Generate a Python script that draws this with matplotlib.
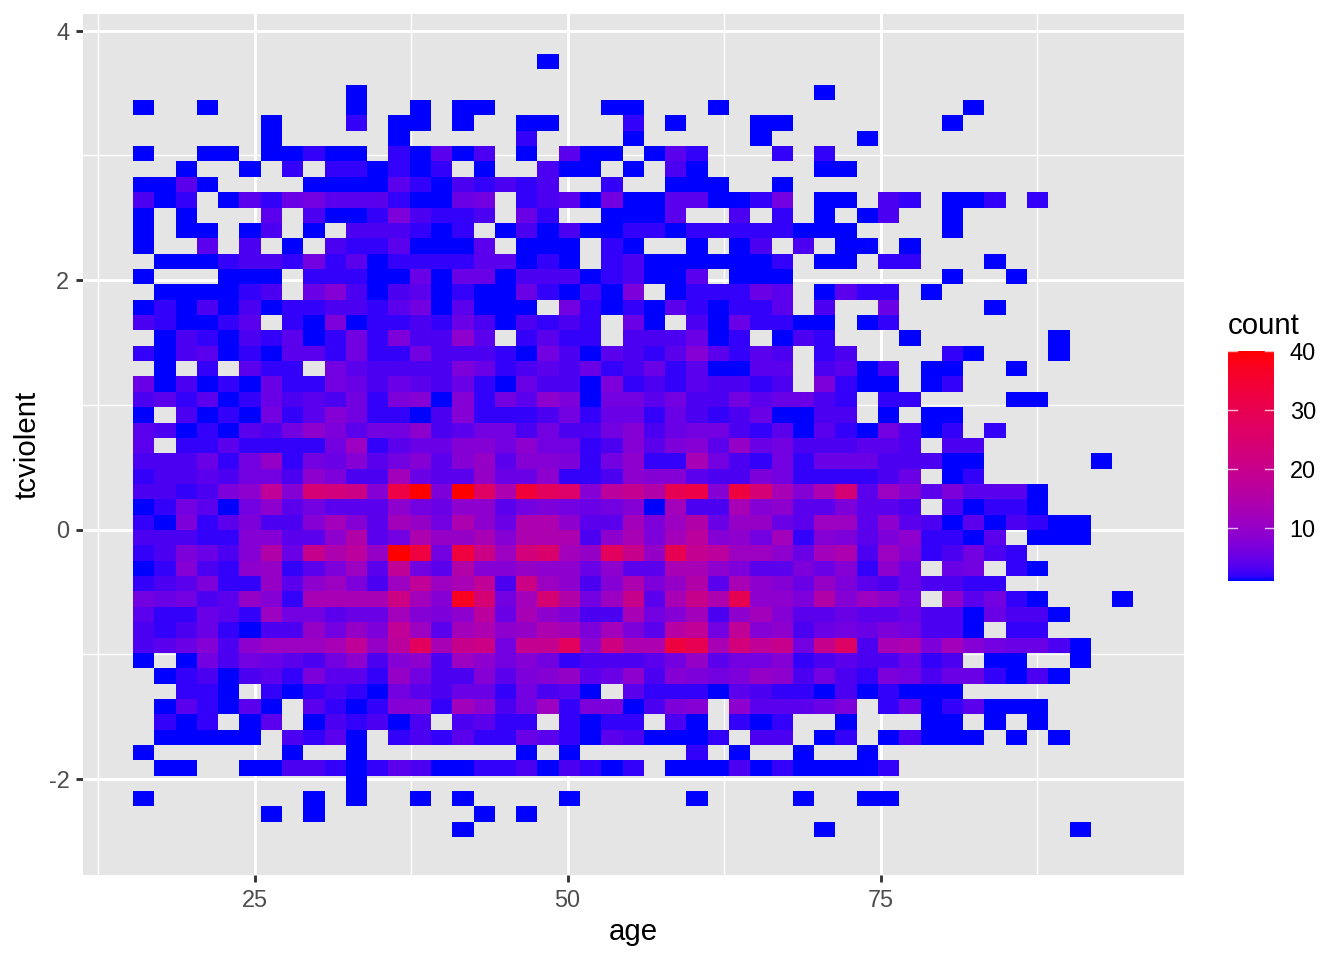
import numpy as np
import matplotlib
matplotlib.use("Agg")
import matplotlib.pyplot as plt
from matplotlib.colors import LinearSegmentedColormap

plt.rcParams['font.family'] = ['Liberation Sans', 'DejaVu Sans']
plt.rcParams['axes.unicode_minus'] = False

# Count per 2D bin, one list per row (top row first), 47 age bins; 0 = empty bin
r00 = [0]*19 + [1] + [0]*27
r01 = [0]*47
r02 = [0,0,0,0,0,0,0,0,0,0,1,0,0,0,0,0,0,0,0,0,0,0,0,0,0,0,0,0,0,0,0,0,1,0,0,0,0,0,0,0,0,0,0,0,0,0,0]
r03 = [1,0,0,1,0,0,0,0,0,0,1,0,0,1,0,1,1,0,0,0,0,0,1,1,0,0,0,1,0,0,0,0,0,0,0,0,0,0,0,1,0,0,0,0,0,0,0]
r04 = [0,0,0,0,0,0,1,0,0,0,2,0,1,1,0,1,0,0,1,1,0,0,0,2,0,1,0,0,0,1,1,0,0,0,0,0,0,0,1,0,0,0,0,0,0,0,0]
r05 = [0,0,0,0,0,0,1,0,0,0,0,0,1,0,0,0,0,0,2,0,0,0,0,1,0,0,0,0,0,1,0,0,0,0,1,0,0,0,0,0,0,0,0,0,0,0,0]
r06 = [1,0,0,1,1,0,1,1,2,1,1,0,2,1,4,1,3,0,1,0,4,1,1,0,1,4,2,0,0,0,2,0,2,0,0,0,0,0,0,0,0,0,0,0,0,0,0]
r07 = [0,0,1,0,0,1,0,2,0,2,2,1,2,1,2,0,1,0,0,3,1,1,0,1,0,3,1,0,0,0,0,0,1,1,0,0,0,0,0,0,0,0,0,0,0,0,0]
r08 = [1,1,4,1,0,0,0,0,1,1,1,1,4,2,1,3,2,3,2,3,0,0,2,0,0,1,1,1,0,0,1,0,0,0,0,0,0,0,0,0,0,0,0,0,0,0,0]
r09 = [3,1,2,0,1,4,2,5,6,4,4,4,2,1,1,5,6,0,2,3,4,1,6,1,1,4,4,1,1,2,6,0,1,1,0,3,2,0,1,1,2,0,2,0,0,0,0]
r10 = [1,0,1,0,0,0,4,0,3,1,1,2,7,3,2,2,3,0,5,2,0,0,1,1,1,4,0,0,3,0,2,0,1,0,1,3,0,0,1,0,0,0,0,0,0,0,0]
r11 = [1,0,1,1,0,1,3,0,1,0,3,3,3,2,1,2,0,1,3,1,3,1,1,2,2,1,2,2,2,2,2,1,1,1,0,0,0,0,1,0,0,0,0,0,0,0,0]
r12 = [1,0,0,4,0,3,0,1,0,3,2,2,4,1,1,1,4,0,1,1,1,0,2,1,0,0,1,0,1,3,0,3,0,1,1,0,1,0,0,0,0,0,0,0,0,0,0]
r13 = [0,1,1,1,2,3,3,2,6,2,4,1,2,2,2,2,4,4,1,2,1,0,2,3,1,1,1,1,1,1,2,0,1,1,0,2,2,0,0,0,1,0,0,0,0,0,0]
r14 = [1,0,0,0,1,1,1,0,2,2,2,1,1,5,1,5,5,1,3,3,3,1,2,3,1,1,4,0,1,1,1,0,0,0,0,0,0,0,1,0,0,1,0,0,0,0,0]
r15 = [0,1,1,1,1,2,3,0,5,8,3,1,3,4,1,2,1,1,5,2,1,3,1,7,0,1,2,2,2,5,4,0,1,4,2,2,0,1,0,0,0,0,0,0,0,0,0]
r16 = [1,2,1,3,1,3,1,2,2,3,3,2,4,6,1,4,1,1,1,0,6,2,1,2,1,4,2,1,2,2,4,0,3,0,0,5,0,0,0,0,1,0,0,0,0,0,0]
r17 = [3,2,1,1,2,4,0,2,1,7,1,2,2,3,2,5,3,1,3,2,3,2,0,5,1,0,3,1,5,2,2,1,1,0,1,2,0,0,0,0,0,0,0,0,0,0,0]
r18 = [0,1,3,2,1,3,2,4,1,2,6,2,7,3,3,9,4,0,2,4,2,2,0,3,3,3,5,1,2,0,1,3,2,0,0,0,1,0,0,0,0,0,0,1,0,0,0]
r19 = [2,1,3,4,1,2,1,4,4,2,6,2,2,6,3,3,3,2,1,6,3,1,4,3,2,4,8,4,2,4,3,0,2,3,0,0,0,0,2,1,0,0,0,1,0,0,0]
r20 = [0,1,0,2,0,4,2,2,0,6,4,3,3,3,3,7,5,2,3,4,3,5,2,3,5,2,4,1,1,4,4,0,3,4,1,3,0,1,1,0,0,1,0,0,0,0,0]
r21 = [5,1,3,1,2,1,5,2,2,6,5,3,5,4,3,5,2,1,5,3,3,1,7,2,3,2,4,3,3,2,3,0,7,2,1,1,0,1,2,0,0,0,0,0,0,0,0]
r22 = [3,4,2,4,1,2,5,3,4,3,6,2,7,8,1,8,2,6,4,9,7,1,6,6,4,6,3,3,6,4,5,5,3,2,0,2,2,0,0,0,0,1,1,0,0,0,0]
r23 = [1,0,3,1,2,1,6,2,4,8,6,2,2,1,3,8,2,2,2,3,6,2,5,5,2,5,3,2,3,5,1,1,3,3,0,1,0,1,1,0,0,0,0,0,0,0,0]
r24 = [4,3,1,2,1,4,3,6,9,7,4,6,6,9,3,4,6,6,3,6,3,3,6,8,3,5,6,6,3,2,4,1,4,2,1,6,3,1,2,0,2,0,0,0,0,0,0]
r25 = [4,0,2,2,4,2,2,2,2,6,11,2,4,5,5,8,8,6,9,6,6,2,3,8,4,7,8,4,10,5,6,3,3,3,4,4,3,0,3,3,0,0,0,0,0,0,0]
r26 = [3,3,3,5,2,6,10,2,6,5,8,4,6,8,4,8,10,4,8,8,7,2,6,9,2,2,13,6,3,2,6,2,5,5,5,3,3,3,1,1,0,0,0,0,0,1,0]
r27 = [2,3,3,4,3,6,6,3,9,7,3,3,12,5,4,4,10,5,5,9,2,2,3,9,8,8,4,3,3,7,6,2,2,2,2,3,5,0,1,2,0,0,0,0,0,0,0]
r28 = [3,3,2,3,7,9,18,8,24,23,21,8,32,40,7,40,27,14,34,28,26,8,17,19,15,30,32,8,33,24,13,8,14,24,4,11,8,4,7,4,4,4,1,0,0,0,0]
r29 = [1,2,6,4,1,6,9,4,6,4,4,4,9,6,5,9,9,4,6,7,6,5,6,8,1,12,3,3,13,8,9,4,4,7,4,4,3,0,3,1,2,2,1,0,0,0,0]
r30 = [2,1,7,2,4,7,3,3,8,12,8,4,12,10,6,14,9,5,14,14,9,4,4,12,7,11,15,5,10,10,5,4,11,11,4,9,4,3,1,4,1,3,2,1,1,0,0]
r31 = [3,3,3,2,2,8,8,4,4,9,15,4,6,14,10,10,13,8,14,14,14,3,9,13,7,12,17,8,9,6,12,2,8,7,4,7,9,2,2,1,4,0,1,1,1,0,0]
r32 = [2,3,7,5,3,8,15,5,20,14,17,10,40,33,6,33,21,11,23,25,12,10,28,20,10,30,19,17,11,11,9,5,12,14,3,11,8,2,3,6,3,2,0,0,0,0,0]
r33 = [1,2,8,3,2,9,10,2,4,7,11,4,18,6,4,15,8,8,10,9,9,5,9,4,4,13,13,9,7,4,4,7,5,8,2,9,5,0,5,6,0,2,1,0,0,0,0]
r34 = [2,3,4,7,2,2,10,4,9,11,7,3,11,18,11,13,18,3,21,11,9,3,8,14,7,10,15,4,13,9,8,5,10,7,4,3,5,3,3,2,2,0,0,0,0,0,0]
r35 = [6,5,6,3,4,10,8,2,13,13,13,13,21,12,8,37,24,6,12,24,15,6,11,20,4,13,20,14,30,9,9,7,15,8,11,9,6,0,9,4,6,2,1,0,0,0,1]
r36 = [4,2,2,5,4,2,11,6,6,4,5,5,12,8,7,9,17,5,13,9,7,3,3,13,6,8,12,3,9,12,8,4,4,5,4,4,5,3,3,1,5,3,3,1,0,0,0]
r37 = [3,2,3,5,2,1,3,3,10,6,10,7,18,11,4,12,14,9,10,14,12,7,12,7,4,16,18,6,18,8,9,3,5,6,5,7,6,3,3,1,0,2,2,0,0,0,0]
r38 = [3,4,5,8,3,9,11,11,11,13,18,10,17,28,13,20,21,6,19,19,28,9,22,14,14,33,30,13,23,18,20,6,20,27,3,13,14,7,12,8,6,5,5,3,1,0,0]
r39 = [1,0,1,6,3,6,5,4,3,6,9,3,8,9,3,11,9,6,8,6,2,3,3,3,4,6,10,4,6,6,8,2,3,4,3,3,5,2,3,0,1,1,0,0,1,0,0]
r40 = [0,1,2,3,1,3,4,2,7,4,4,2,10,6,3,3,8,4,7,8,10,4,5,9,3,8,7,6,7,10,9,3,6,3,2,7,6,3,5,5,2,1,3,1,0,0,0]
r41 = [0,0,2,2,1,0,2,1,2,3,2,1,6,4,3,5,5,2,6,3,4,1,0,4,2,2,2,1,4,3,2,2,1,3,1,2,1,1,1,0,0,0,0,0,0,0,0]
r42 = [0,1,4,2,1,4,1,0,4,2,1,2,8,8,2,12,9,3,6,11,2,7,7,1,3,7,8,0,9,4,4,4,5,7,0,2,5,1,2,4,1,1,1,0,0,0,0]
r43 = [0,2,1,2,0,1,4,0,1,3,2,3,1,3,0,3,4,2,2,0,2,1,2,2,0,3,1,0,2,1,2,0,0,1,0,0,0,1,1,0,1,0,1,0,0,0,0]
r44 = [0,1,1,1,1,1,0,3,2,4,1,0,2,3,2,4,2,2,5,4,2,1,4,3,1,1,1,2,0,3,3,0,1,2,0,1,3,1,1,1,0,1,0,1,0,0,0]
r45 = [1,0,0,0,0,0,0,1,0,0,1,0,0,0,0,0,0,0,1,0,1,0,0,0,0,0,2,0,1,0,0,1,0,0,1,0,0,0,0,0,0,0,0,0,0,0,0]
r46 = [0,1,1,0,0,1,1,3,3,2,1,2,4,3,1,1,2,2,3,1,3,2,1,2,0,1,1,1,3,1,2,1,1,1,1,2,0,0,0,0,0,0,0,0,0,0,0]
r47 = [0,0,0,0,0,0,0,0,0,0,1,0,0,0,0,0,0,0,0,0,0,0,0,0,0,0,0,0,0,0,0,0,0,0,0,0,0,0,0,0,0,0,0,0,0,0,0]
r48 = [1,0,0,0,0,0,0,0,1,0,1,0,0,1,0,1,0,0,0,0,1,0,0,0,0,0,1,0,0,0,0,1,0,0,1,1,0,0,0,0,0,0,0,0,0,0,0]
r49 = [0,0,0,0,0,0,1,0,1,0,0,0,0,0,0,0,1,0,1,0,0,0,0,0,0,0,0,0,0,0,0,0,0,0,0,0,0,0,0,0,0,0,0,0,0,0,0]
r50 = [0,0,0,0,0,0,0,0,0,0,0,0,0,0,0,1,0,0,0,0,0,0,0,0,0,0,0,0,0,0,0,0,1,0,0,0,0,0,0,0,0,0,0,0,1,0,0]
rows = [r00,r01,r02,r03,r04,r05,r06,r07,r08,r09,r10,r11,r12,r13,r14,r15,r16,r17,r18,r19,
        r20,r21,r22,r23,r24,r25,r26,r27,r28,r29,r30,r31,r32,r33,r34,r35,r36,r37,r38,r39,
        r40,r41,r42,r43,r44,r45,r46,r47,r48,r49,r50]

# Bin grid
age_start, age_width = 15.30, 1.70
tc_start, tc_height = 3.812, 0.1231
x_ticks = [25, 50, 75]
y_ticks = [-2, 0, 2, 4]
x_minor = [12.5, 37.5, 62.5, 87.5]
y_minor = [-3, -1, 1, 3]
legend_ticks = [10, 20, 30, 40]


def srgb_to_lab(c):
    c = np.array(c, float)
    lin = np.where(c > 0.04045, ((c + 0.055) / 1.055) ** 2.4, c / 12.92)
    M = np.array([[0.4124564, 0.3575761, 0.1804375],
                  [0.2126729, 0.7151522, 0.0721750],
                  [0.0193339, 0.1191920, 0.9503041]])
    xyz = M @ lin / np.array([0.95047, 1.0, 1.08883])
    f = np.where(xyz > 0.008856, np.cbrt(xyz), 7.787 * xyz + 16 / 116)
    return np.array([116 * f[1] - 16, 500 * (f[0] - f[1]), 200 * (f[1] - f[2])])


def lab_to_srgb(lab):
    fy = (lab[0] + 16) / 116
    f = np.array([fy + lab[1] / 500, fy, fy - lab[2] / 200])
    xyz = np.where(f ** 3 > 0.008856, f ** 3, (f - 16 / 116) / 7.787) * np.array([0.95047, 1.0, 1.08883])
    M = np.array([[3.2404542, -1.5371385, -0.4985314],
                  [-0.9692660, 1.8760108, 0.0415560],
                  [0.0556434, -0.2040259, 1.0572252]])
    lin = np.clip(M @ xyz, 0, 1)
    return np.where(lin > 0.0031308, 1.055 * lin ** (1 / 2.4) - 0.055, 12.92 * lin)


lab_a, lab_b = srgb_to_lab([0, 0, 1]), srgb_to_lab([1, 0, 0])
cmap = LinearSegmentedColormap.from_list(
    "blue_red_lab",
    [tuple(np.clip(lab_to_srgb(lab_a + (lab_b - lab_a) * t), 0, 1)) for t in np.linspace(0, 1, 64)],
    N=256)

W, H = 1344, 960
fig = plt.figure(figsize=(W / 192, H / 192), dpi=192, facecolor="white")
L, R, T, B = 83, 1184, 14, 875
ax = fig.add_axes([L / W, 1 - B / H, (R - L) / W, (B - T) / H], facecolor="#E5E5E5")

counts = np.ma.masked_equal(np.array(rows, float), 0)
x_edges = age_start + age_width * np.arange(counts.shape[1] + 1)
y_edges = tc_start - tc_height * np.arange(counts.shape[0] + 1)

ax.set_axisbelow(True)
for v in x_minor:
    ax.axvline(v, color="white", lw=0.53, zorder=1)
for v in y_minor:
    ax.axhline(v, color="white", lw=0.53, zorder=1)
for v in x_ticks:
    ax.axvline(v, color="white", lw=1.07, zorder=1)
for v in y_ticks:
    ax.axhline(v, color="white", lw=1.07, zorder=1)

mesh = ax.pcolormesh(x_edges, y_edges, counts, cmap=cmap, vmin=1, vmax=40,
                     antialiased=False, linewidth=0, zorder=2)

ax.set_xlim(25 + (L - 254.5) / 12.52, 25 + (R - 254.5) / 12.52)
ax.set_ylim((529.5 - B) / 124.75, (529.5 - T) / 124.75)
ax.set_xticks(x_ticks)
ax.set_yticks(y_ticks)
ax.tick_params(length=2.75, width=1.07, color="#333333", labelcolor="#4D4D4D",
               labelsize=8.8, pad=2.4)
for s in ax.spines.values():
    s.set_visible(False)

fig.text(633 / W, 1 - 932 / H, "age", fontsize=11, ha="center", va="center", color="black")
fig.text(27 / W, 1 - 445 / H, "tcviolent", fontsize=11, ha="center", va="center",
         rotation=90, color="black")

cax = fig.add_axes([1228 / W, 1 - 581 / H, 46 / W, 230 / H])
cb = fig.colorbar(mesh, cax=cax, ticks=legend_ticks)
cb.outline.set_visible(False)
cb.solids.set_antialiased(False)
cax.tick_params(length=0, labelsize=8.8, pad=5.9, labelcolor="black")
for t in legend_ticks:
    cax.plot([0, 0.2], [t, t], color="white", lw=0.53, transform=cax.get_yaxis_transform(), clip_on=False, alpha=0.75)
    cax.plot([0.8, 1], [t, t], color="white", lw=0.53, transform=cax.get_yaxis_transform(), clip_on=False, alpha=0.75)
cax.set_ylim(1, 40)
fig.text(1228 / W, 1 - 326 / H, "count", fontsize=11, ha="left", va="center", color="black")

fig.savefig("out.png", dpi=192, facecolor="white")
